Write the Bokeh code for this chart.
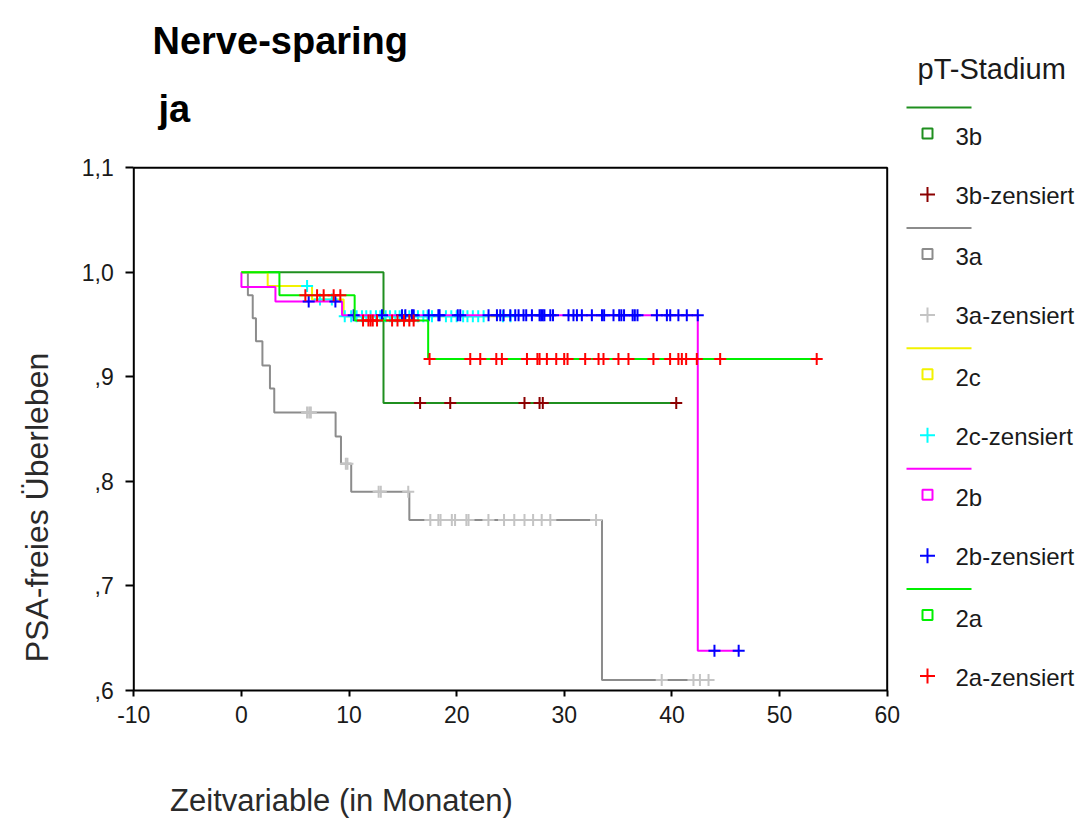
import numpy as np
from bokeh.plotting import figure
from bokeh.models import Range1d, FixedTicker, CustomJSTickFormatter
from bokeh.core.properties import value
from bokeh.embed import file_html
from bokeh.resources import INLINE

# ---------------- data ----------------
title_1 = "Nerve-sparing"
title_2 = "ja"
legend_title = "pT-Stadium"
x_label = "Zeitvariable (in Monaten)"
y_label = "PSA-freies Überleben"

x_ticks = [-10, 0, 10, 20, 30, 40, 50, 60]
y_ticks = [0.6, 0.7, 0.8, 0.9, 1.0, 1.1]
x_lim = (-10, 60)
y_lim = (0.6, 1.1)

groups = ["3b", "3a", "2c", "2b", "2a"]

# step curves: times of steps and survival after each step (last entry = end of curve)
t_3b = [0, 13.2, 40.4]
s_3b = [1.0, 0.875, 0.875]
c_3b = [16.6, 19.4, 26.3, 27.7, 28.0, 40.4]

t_3a = [0, 0.6, 1.05, 1.35, 1.95, 2.65, 3.05, 8.75, 9.25, 10.2, 15.6, 33.5, 43.4]
s_3a = [1.0, 0.978, 0.956, 0.934, 0.911, 0.889, 0.866, 0.843, 0.817, 0.790, 0.763, 0.610, 0.610]
c_3a = [6.1, 6.3, 6.45, 9.7, 9.85, 12.75, 12.95, 15.5,
        17.55, 18.3, 18.5, 19.55, 19.85, 20.9, 21.1, 22.95, 24.4, 25.35, 26.3,
        27.1, 27.9, 28.7, 32.95, 39.05, 42.0, 42.6, 43.4]

t_2c = [0, 2.44, 6.56, 9.5, 25.0]
s_2c = [1.0, 0.987, 0.974, 0.958, 0.958]
c_2c = [6.1, 7.3, 8.4, 9.6, 10.2, 10.7, 11.2, 11.6, 12.0, 12.5, 12.9, 13.4, 13.8,
        14.3, 14.7, 15.2, 15.6, 16.0, 16.4, 16.9, 17.3, 17.7, 19.0, 19.5, 20.0,
        20.6, 21.0, 21.5, 22.0, 22.5, 24.3, 25.0]

t_2b = [0, 0, 3.16, 9.35, 42.4, 46.2]
s_2b = [1.0, 0.986, 0.972, 0.959, 0.638, 0.638]
c_2b = [6.25, 8.73, 10.43, 13.06, 14.92, 15.23, 15.85, 16.0, 17.4, 18.3, 18.41,
        20.1, 20.33, 22.96, 23.74, 24.05, 24.36, 24.98, 25.44, 25.75, 26.21, 26.46,
        26.99, 27.7, 27.85, 28.0, 28.15, 28.7, 28.95, 30.39, 30.85, 31.17, 31.63,
        32.56, 33.5, 33.7, 34.57, 35.1, 35.3, 35.55, 36.35, 36.55, 36.8, 38.6,
        39.53, 39.84, 40.6, 41.38, 42.4, 43.95, 46.2]

t_2a = [0, 3.53, 10.52, 17.35, 53.45]
s_2a = [1.0, 0.978, 0.954, 0.917, 0.917]
c_2a = [5.94, 7.03, 7.64, 8.57, 9.19, 11.3, 11.8, 12.0, 12.2, 12.6, 14.0, 14.5,
        15.1, 15.6, 16.0, 17.48, 21.26, 22.19, 23.68, 24.2, 26.53, 27.5, 27.7,
        28.38, 29.25, 29.99, 30.3, 31.94, 33.18, 33.64, 35.03, 35.96, 38.28,
        39.83, 40.6, 40.92, 41.32, 42.31, 44.48, 53.45]

line_colors = ["#1f8f1f", "#8c8c8c", "#f2f200", "#ff00ff", "#00f000"]
cens_colors = ["#8b0000", "#c4c4c4", "#00ffff", "#0000ff", "#ff0000"]

curves = [(t_3b, s_3b, c_3b), (t_3a, s_3a, c_3a), (t_2c, s_2c, c_2c),
          (t_2b, s_2b, c_2b), (t_2a, s_2a, c_2a)]

FONT = "Liberation Sans"
TXT = "#1a1a1a"

# ---------------- layout (pixels) ----------------
W, H = 1080, 818
PL, PR, PT, PB = 133.3, 886.7, 167.3, 690.0   # plot box on the page
sx = (PR - PL) / (x_lim[1] - x_lim[0])
sy = (PB - PT) / (y_lim[1] - y_lim[0])
X0 = x_lim[0] - PL / sx
X1 = x_lim[1] + (W - PR) / sx
Y0 = y_lim[0] - (H - PB) / sy
Y1 = y_lim[1] + PT / sy


def xd(px):
    return X0 + px / sx


def yd(py):
    return Y1 - py / sy


p = figure(width=W, height=H, x_range=Range1d(X0, X1), y_range=Range1d(Y0, Y1),
           output_backend="svg", toolbar_location=None, title_location=None,
           min_border=0)
p.grid.visible = False
p.outline_line_color = None
p.background_fill_color = "white"
p.border_fill_color = "white"

for ax in (p.xaxis[0], p.yaxis[0]):
    ax.axis_line_color = None
    ax.major_tick_line_width = 2
    ax.major_tick_line_color = "black"
    ax.major_tick_in = 0
    ax.minor_tick_line_color = None
    ax.major_label_text_font = FONT
    ax.major_label_text_font_size = "23px"
    ax.major_label_text_color = TXT

p.xaxis.fixed_location = y_lim[0]
p.yaxis.fixed_location = x_lim[0]
p.xaxis.ticker = FixedTicker(ticks=x_ticks)
p.yaxis.ticker = FixedTicker(ticks=y_ticks)
p.yaxis.formatter = CustomJSTickFormatter(
    code="return tick.toFixed(1).replace('.', ',').replace(/^0/, '');")
p.xaxis.formatter = CustomJSTickFormatter(code="return String(Math.round(tick));")
p.xaxis.major_tick_out = 6
p.yaxis.major_tick_out = 8
p.xaxis.major_label_standoff = 9
p.yaxis.major_label_standoff = 12

# plot box
p.quad(left=[x_lim[0]], right=[x_lim[1]], bottom=[y_lim[0]], top=[y_lim[1]],
       fill_color=None, line_color="black", line_width=2)

for (t, s, c), lc, cc in zip(curves, line_colors, cens_colors):
    t = np.asarray(t, float)
    s = np.asarray(s, float)
    c = np.asarray(c, float)
    p.step(t, s, mode="after", line_color=lc, line_width=2)
    idx = np.searchsorted(t, c, side="left") - 1
    idx = np.clip(idx, 0, len(s) - 1)
    p.scatter(c, s[idx], marker="cross", size=12, line_color=cc, line_width=2)


def txt(px, py, text, size, bold=False, color=TXT, baseline="middle", align="left", angle=0.0):
    p.text([xd(px)], [yd(py)], text=[text], text_font=value(FONT), text_font_size=size,
           text_font_style="bold" if bold else "normal", text_color=color,
           text_baseline=baseline, text_align=align, angle=angle)


# titles and axis labels
txt(152, 40, title_1, "38px", bold=True, color="black", baseline="alphabetic")
txt(158, 108, title_2, "38px", bold=True, color="black", baseline="alphabetic")
txt(341, 800, x_label, "31px", color="#2a2a2a", align="center")
txt(36, 507, y_label, "32px", color="#2a2a2a", align="center", angle=np.pi / 2)

# legend
txt(917, 68, legend_title, "29px")
for i, (g, lc, cc) in enumerate(zip(groups, line_colors, cens_colors)):
    ly = 107 + 120.4 * i
    p.segment([xd(906)], [yd(ly)], [xd(971)], [yd(ly)], line_color=lc, line_width=2)
    p.scatter([xd(927)], [yd(ly + 26)], marker="square", size=10, fill_color=None,
              line_color=lc, line_width=2)
    txt(955, ly + 29, g, "24px")
    p.scatter([xd(927)], [yd(ly + 87)], marker="cross", size=15, line_color=cc, line_width=2)
    txt(955, ly + 88, g + "-zensiert", "24px")

open("out.html", "w").write(file_html(p, INLINE))
